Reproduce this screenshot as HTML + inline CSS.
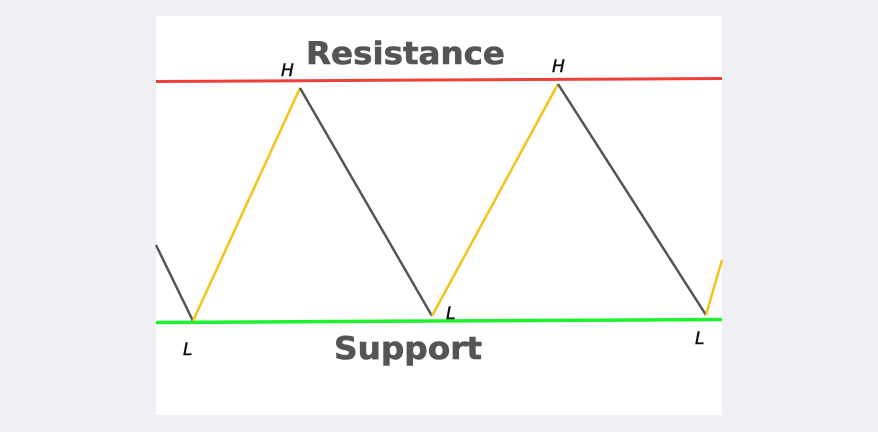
<!DOCTYPE html>
<html><head><style>
body{margin:0;background:#eef0f4;width:878px;height:432px;overflow:hidden}
svg{position:absolute;left:0;top:0}
</style></head><body>
<svg width="878" height="432" viewBox="0 0 878 432">
<rect x="156" y="16" width="566" height="399" fill="#fff"/>
<line x1="156" y1="81.5" x2="722" y2="78.5" stroke="#ee4039" stroke-width="3"/>
<line x1="156" y1="322.5" x2="722" y2="319.5" stroke="#1ef22e" stroke-width="3.5"/>
<g stroke-width="2.5" fill="none" stroke-linejoin="round">
<line x1="156" y1="245" x2="193" y2="321" stroke="#555"/>
<line x1="193" y1="321" x2="300" y2="88" stroke="#f2c318"/>
<line x1="300" y1="88" x2="432" y2="316" stroke="#555"/>
<line x1="432" y1="316" x2="558" y2="84" stroke="#f2c318"/>
<line x1="558" y1="84" x2="706" y2="315" stroke="#555"/>
<line x1="706" y1="315" x2="722" y2="260" stroke="#f2c318"/>
</g>
<g font-family="'DejaVu Sans','Liberation Sans',sans-serif" font-weight="bold" fill="#555" stroke="#555" stroke-width="0.6" font-size="31">
<text x="306" y="64" textLength="199" lengthAdjust="spacingAndGlyphs">Resistance</text>
<text x="334" y="359" textLength="148" lengthAdjust="spacingAndGlyphs">Support</text>
</g>
<g font-family="'DejaVu Sans','Liberation Sans',sans-serif" font-style="italic" fill="#111" stroke="#111" stroke-width="0.5" font-size="17">
<text x="281" y="76">H</text>
<text x="552" y="72">H</text>
<text x="183" y="355">L</text>
<text x="446" y="319">L</text>
<text x="695" y="344">L</text>
</g>
</svg>
</body></html>
